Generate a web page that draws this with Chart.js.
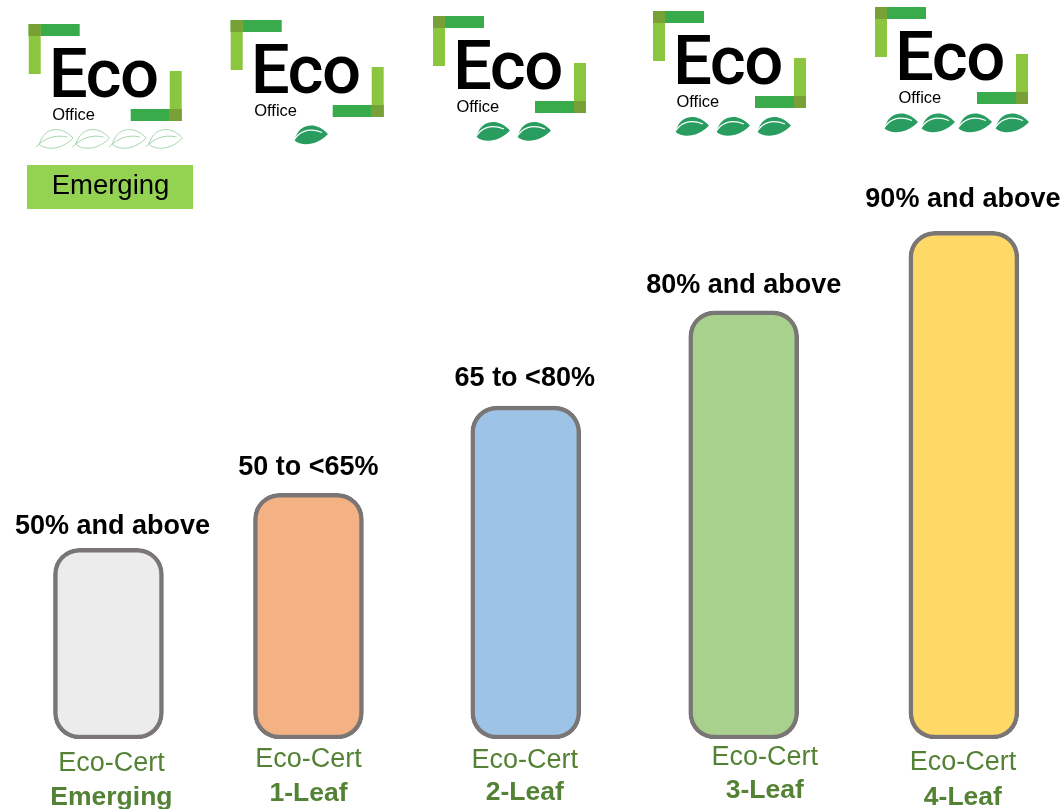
<!DOCTYPE html>
<html>
<head>
<meta charset="utf-8">
<title>Eco-Cert levels</title>
<script src="https://cdn.jsdelivr.net/npm/chart.js@4"></script>
<style>
    html, body { margin: 0; background: #fff; }
    canvas { display: block; }
</style>
</head>
<body>
<canvas id="certChart" width="1064" height="809"></canvas>
<script>
const certLevels = ['Emerging', '1-Leaf', '2-Leaf', '3-Leaf', '4-Leaf'];
const certTitle = 'Eco-Cert';
const scoreLabels = ['50% and above', '50 to <65%', '65 to <80%', '80% and above', '90% and above'];
const barHeights = [37.4, 48.2, 65.3, 84, 99.6];
const levelSlots = [0, 0.913, 1.905, 2.9, 3.905];
const leafCounts = [4, 1, 2, 3, 4];
const barColors = ['#ececec', '#f4b183', '#9dc3e6', '#a9d18e', '#ffd966'];

// small hand placement of the texts and logos around each bar
const scoreNudge = [[4, -14], [0, -18], [-1, -20], [0, -18], [-1, -24]];
const titleSpots = [[3, 771], [0, 767], [-1, 768], [21, 765], [-1, 770]];
const levelBase = [805, 801, 800, 798, 805];
const logoSpots = [[28.7, 24], [230.7, 20], [433, 16], [653, 11], [875, 7]];
const leafStarts = [[36, 128], [291, 124], [473, 120.5], [672, 115.5], [881, 112]];
const leafSteps = [36.5, 0, 41, 41, 37];

const GREEN_TEXT = '#548235';

function drawLogo(ctx, x, y) {
    ctx.save();
    ctx.translate(x, y);
    const light = '#8cc63f', dark = '#39ab4a', both = '#77a136';
    ctx.fillStyle = dark;
    ctx.fillRect(0, 0, 51, 12);
    ctx.fillRect(102, 85, 51, 12);
    ctx.fillStyle = light;
    ctx.fillRect(0, 0, 12, 50);
    ctx.fillRect(141, 47, 12, 50);
    ctx.fillStyle = both;
    ctx.fillRect(0, 0, 12, 12);
    ctx.fillRect(141, 85, 12, 12);

    ctx.fillStyle = '#000';
    ctx.textAlign = 'left';
    ctx.textBaseline = 'alphabetic';
    ctx.font = '500 69px Roboto';
    ctx.letterSpacing = '-1.5px';
    ctx.fillText('Eco', 20, 73);
    ctx.letterSpacing = '0px';
    ctx.font = '16.5px "Liberation Sans"';
    ctx.fillText('Office', 23.5, 96);
    ctx.restore();
}

function drawLeaf(ctx, x, y, filled) {
    ctx.save();
    ctx.translate(x, y);
    ctx.beginPath();
    ctx.moveTo(5, 12);
    ctx.bezierCurveTo(10, 0, 25, -3, 37, 10);
    ctx.bezierCurveTo(28, 20, 12, 24, 3, 16);
    ctx.closePath();
    if (filled) {
        ctx.fillStyle = '#299c60';
        ctx.fill();
        ctx.strokeStyle = '#fff';
        ctx.lineWidth = 1.3;
        ctx.beginPath();
        ctx.moveTo(2, 18);
        ctx.bezierCurveTo(7, 8, 17, 3, 31, 8.5);
        ctx.stroke();
    } else {
        ctx.strokeStyle = '#a5d6ac';
        ctx.lineWidth = 1;
        ctx.stroke();
        ctx.beginPath();
        ctx.moveTo(0, 19);
        ctx.bezierCurveTo(8, 11, 18, 6, 31, 9);
        ctx.stroke();
    }
    ctx.restore();
}

const certPlugin = {
    id: 'certText',
    afterDatasetsDraw(chart) {
        const ctx = chart.ctx;
        const bars = chart.getDatasetMeta(0).data;
        ctx.save();

        logoSpots.forEach((spot, i) => {
            drawLogo(ctx, spot[0], spot[1]);
            for (let n = 0; n < leafCounts[i]; n++) {
                drawLeaf(ctx, leafStarts[i][0] + n * leafSteps[i], leafStarts[i][1], i > 0);
            }
        });

        // badge under the first logo
        ctx.fillStyle = '#93d351';
        ctx.fillRect(27, 165, 166, 44);
        ctx.fillStyle = '#000';
        ctx.textAlign = 'center';
        ctx.textBaseline = 'alphabetic';
        ctx.font = '27.5px "Liberation Sans"';
        ctx.fillText(certLevels[0], 110.5, 194);

        bars.forEach((bar, i) => {
            ctx.fillStyle = '#000';
            ctx.font = 'bold 27px "Liberation Sans"';
            ctx.fillText(scoreLabels[i], bar.x + scoreNudge[i][0], bar.y + scoreNudge[i][1]);

            ctx.fillStyle = GREEN_TEXT;
            ctx.font = '27px "Liberation Sans"';
            ctx.fillText(certTitle, bar.x + titleSpots[i][0], titleSpots[i][1]);
            ctx.font = 'bold 26.5px "Liberation Sans"';
            ctx.fillText(certLevels[i], bar.x + titleSpots[i][0], levelBase[i]);
        });
        ctx.restore();
    }
};

new Chart(document.getElementById('certChart').getContext('2d'), {
    type: 'bar',
    data: {
        datasets: [{
            data: levelSlots.map((slot, i) => ({ x: slot, y: barHeights[i] })),
            backgroundColor: barColors,
            borderColor: '#7a7675',
            borderWidth: 4.5,
            borderRadius: 26,
            borderSkipped: false,
            barThickness: 110
        }]
    },
    options: {
        responsive: false,
        animation: false,
        layout: { padding: { bottom: 70 } },
        plugins: { legend: { display: false }, tooltip: { enabled: false } },
        scales: {
            x: { type: 'linear', offset: false, min: -0.495, max: 4.362, display: false },
            y: { min: 0, max: 145, display: false }
        }
    },
    plugins: [certPlugin]
});
</script>
</body>
</html>
